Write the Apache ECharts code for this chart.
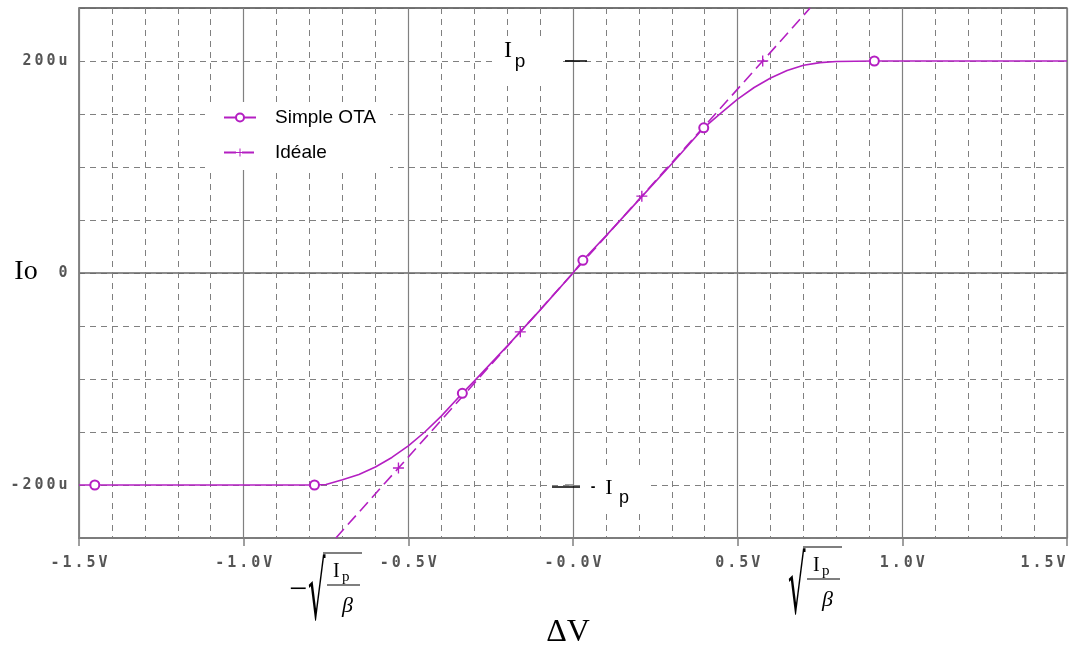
<!DOCTYPE html>
<html><head><meta charset="utf-8">
<script src="https://cdn.jsdelivr.net/npm/echarts@6/dist/echarts.min.js"></script>
<style>html,body{margin:0;padding:0;background:#fff}#c{width:1069px;height:653px}</style>
</head><body><div id="c"></div>
<script>
// ---- data (V, µA) ----
const seriesNames = ['Simple OTA', 'Idéale'];
const otaX = [-1.5, -1.452, -1.0, -0.785, -0.75, -0.7, -0.65, -0.6, -0.55, -0.5, -0.45, -0.4, -0.336, -0.3, -0.2, -0.1, 0.0, 0.03, 0.1, 0.2, 0.3, 0.397, 0.45, 0.5, 0.55, 0.6, 0.65, 0.7, 0.75, 0.8, 0.915, 1.5];
const otaY = [-200, -200, -200, -200, -199.5, -195, -190, -183, -174, -163, -150, -135, -113.5, -102, -69, -35, 0, 12, 35, 69, 103, 137, 151, 164, 175, 184, 191, 196, 198.5, 199.5, 200, 200];
const otaMark = [0, 1, 0, 1, 0, 0, 0, 0, 0, 0, 0, 0, 1, 0, 0, 0, 0, 1, 0, 0, 0, 1, 0, 0, 0, 0, 0, 0, 0, 0, 1, 0];
const idealX = [-0.72, -0.53, -0.16, 0.209, 0.576, 0.72];
const idealY = [-250, -184, -55.5, 72.5, 200, 250];
const idealMark = [0, 1, 1, 1, 1, 0];
const xTickValues = [-1.5, -1.0, -0.5, 0, 0.5, 1.0, 1.5];
const xTickText = ['-1.5V', '-1.0V', '-0.5V', '-0.0V', '0.5V', '1.0V', '1.5V'];
const yTickValues = [-200, 0, 200];
const yTickText = ['-200u', '0', '200u'];

// ---- styles ----
const PURPLE = '#b41fc2';
const GRID = '#808080';
const LABEL = '#555555';
const PLUS = 'path://M5,0H6.4V5H11.4V6.4H6.4V11.4H5V6.4H0V5H5Z';
const cellRich = { c: { width: 12, align: 'center', fontFamily: 'DejaVu Sans Mono', fontWeight: 'bold', fontSize: 15, color: LABEL } };
const cells = s => s.split('').map(ch => '{c|' + ch + '}').join('');

function pickLabel(values, texts, v) {
  for (let i = 0; i < values.length; i++) if (Math.abs(values[i] - v) < 1e-6) return texts[i];
  return '';
}

const otaData = otaX.map((x, i) => otaMark[i]
  ? { value: [x, otaY[i]], symbol: 'emptyCircle', symbolSize: 9 }
  : { value: [x, otaY[i]], symbol: 'none' });
const idealData = idealX.map((x, i) => idealMark[i]
  ? { value: [x, idealY[i]], symbol: PLUS, symbolSize: 11 }
  : { value: [x, idealY[i]], symbol: 'none' });

function sqrtGroup(ox, oy, h, withMinus) {
  // ox, oy: top-left of the overline; h: radical height
  const els = [
    { type: 'text', x: ox - 15, y: oy + 5, scaleX: 0.55, scaleY: 1.6 * h / 65,
      style: { text: '√', font: '50px "DejaVu Serif"', fill: '#000' } },
    { type: 'line', shape: { x1: ox, y1: oy, x2: ox + 39, y2: oy }, style: { stroke: '#000', lineWidth: 1.2 } },
    { type: 'text', x: ox + 10, y: oy + 9, style: { text: 'I', font: '20px "Liberation Serif"', fill: '#000' } },
    { type: 'text', x: ox + 19, y: oy + 17, style: { text: 'p', font: '15px "Liberation Serif"', fill: '#000' } },
    { type: 'line', shape: { x1: ox + 4, y1: oy + 32, x2: ox + 37, y2: oy + 32 }, style: { stroke: '#000', lineWidth: 1.2 } },
    { type: 'text', x: ox + 19, y: oy + 42, style: { text: 'β', font: 'italic 22px "Liberation Serif"', fill: '#000' } }
  ];
  if (withMinus) {
    els.push({ type: 'text', x: ox - 34, y: oy + 22, style: { text: '−', font: '32px "Liberation Serif"', fill: '#000' } });
  }
  return { type: 'group', z: 20, children: els };
}

const chart = echarts.init(document.getElementById('c'), null, { renderer: 'canvas' });
chart.setOption({
  animation: false,
  backgroundColor: '#ffffff',
  grid: { left: 79, right: 2, top: 8, bottom: 115, containLabel: false, outerBoundsMode: 'none',
    show: true, borderColor: GRID, borderWidth: 1.5, backgroundColor: 'transparent' },
  legend: {
    orient: 'vertical', left: 205, top: 102, itemGap: 16, itemWidth: 32, itemHeight: 10,
    backgroundColor: '#ffffff', padding: [6, 14, 8, 18],
    data: seriesNames,
    textStyle: { fontFamily: 'Liberation Sans', fontSize: 19, color: '#000', padding: [0, 0, 0, 14] }
  },
  xAxis: [
    { type: 'value', min: -1.5, max: 1.5, interval: 0.1, position: 'bottom',
      axisLine: { show: false }, axisTick: { show: false }, axisLabel: { show: false },
      splitLine: { show: true, lineStyle: { color: GRID, type: [6, 5], width: 1 } } },
    { type: 'value', min: -1.5, max: 1.5, interval: 0.5, position: 'bottom',
      axisLine: { show: true, onZero: false, lineStyle: { color: GRID, width: 1.5 } },
      axisTick: { show: true, length: 8, lineStyle: { color: GRID, width: 1.5 } },
      axisLabel: { margin: 18, alignMaxLabel: 'right', rich: cellRich, formatter: v => cells(pickLabel(xTickValues, xTickText, v)) },
      splitLine: { show: true, lineStyle: { color: GRID, type: 'solid', width: 1.2 } } }
  ],
  yAxis: [
    { type: 'value', min: -250, max: 250, interval: 50, position: 'left',
      axisLine: { show: false }, axisTick: { show: false }, axisLabel: { show: false },
      splitLine: { show: true, lineStyle: { color: GRID, type: [6, 5], width: 1 } } },
    { type: 'value', min: -250, max: 250, interval: 250, position: 'left',
      axisLine: { show: true, onZero: false, lineStyle: { color: GRID, width: 1.5 } },
      axisTick: { show: false }, axisLabel: { show: false },
      splitLine: { show: true, lineStyle: { color: '#666', type: 'solid', width: 1.5 } } },
    { type: 'value', min: -250, max: 250, position: 'left',
      axisLine: { show: false },
      axisTick: { show: true, length: 8, customValues: yTickValues, lineStyle: { color: GRID, width: 1.5 } },
      axisLabel: { margin: 10, customValues: yTickValues, rich: cellRich, formatter: v => cells(pickLabel(yTickValues, yTickText, v)) },
      splitLine: { show: false } }
  ],
  series: [
    { name: seriesNames[0], type: 'line', xAxisIndex: 0, yAxisIndex: 0, data: otaData,
      symbol: 'emptyCircle', symbolSize: 9, showSymbol: true, showAllSymbol: true, clip: true,
      lineStyle: { color: PURPLE, width: 1.6 }, itemStyle: { color: PURPLE, borderWidth: 1.3 }, z: 5 },
    { name: seriesNames[1], type: 'line', xAxisIndex: 0, yAxisIndex: 0, data: idealData,
      symbol: PLUS, symbolSize: 11, showSymbol: true, showAllSymbol: true, clip: true,
      lineStyle: { color: PURPLE, width: 1.6, type: [12, 6] }, itemStyle: { color: PURPLE }, z: 5 }
  ],
  graphic: [
    { type: 'text', x: 26, y: 272, z: 20, style: { text: 'Io', font: '28px "Liberation Serif"', fill: '#000', align: 'center', verticalAlign: 'middle' } },
    { type: 'text', x: 568, y: 633, z: 20, style: { text: 'ΔV', font: '32px "Liberation Serif"', fill: '#000', align: 'center', verticalAlign: 'middle' } },
    // upper Ip label
    { type: 'rect', z: 15, shape: { x: 492, y: 36, width: 70, height: 50 }, style: { fill: '#ffffff' } },
    { type: 'text', x: 508, y: 51, z: 20, style: { text: 'I', font: '24px "Liberation Serif"', fill: '#000', align: 'center', verticalAlign: 'middle' } },
    { type: 'text', x: 520, y: 62, z: 20, style: { text: 'p', font: '19px "Liberation Sans"', fill: '#000', align: 'center', verticalAlign: 'middle' } },
    { type: 'line', z: 20, shape: { x1: 565, y1: 61, x2: 587, y2: 61 }, style: { stroke: '#000', lineWidth: 1.5 } },
    // lower -Ip label
    { type: 'rect', z: 15, shape: { x: 584, y: 466, width: 66, height: 48 }, style: { fill: '#ffffff' } },
    { type: 'line', z: 20, shape: { x1: 552, y1: 487, x2: 580, y2: 487 }, style: { stroke: '#000', lineWidth: 1.5 } },
    { type: 'text', x: 593, y: 487, z: 20, style: { text: '-', font: 'bold 14px "Liberation Sans"', fill: '#000', align: 'center', verticalAlign: 'middle' } },
    { type: 'text', x: 609, y: 488, z: 20, style: { text: 'I', font: '22px "Liberation Serif"', fill: '#000', align: 'center', verticalAlign: 'middle' } },
    { type: 'text', x: 624, y: 498, z: 20, style: { text: 'p', font: '18px "Liberation Sans"', fill: '#000', align: 'center', verticalAlign: 'middle' } },
    sqrtGroup(323, 553, 65, true),
    sqrtGroup(803, 547, 65, false)
  ]
});
</script>
</body></html>
